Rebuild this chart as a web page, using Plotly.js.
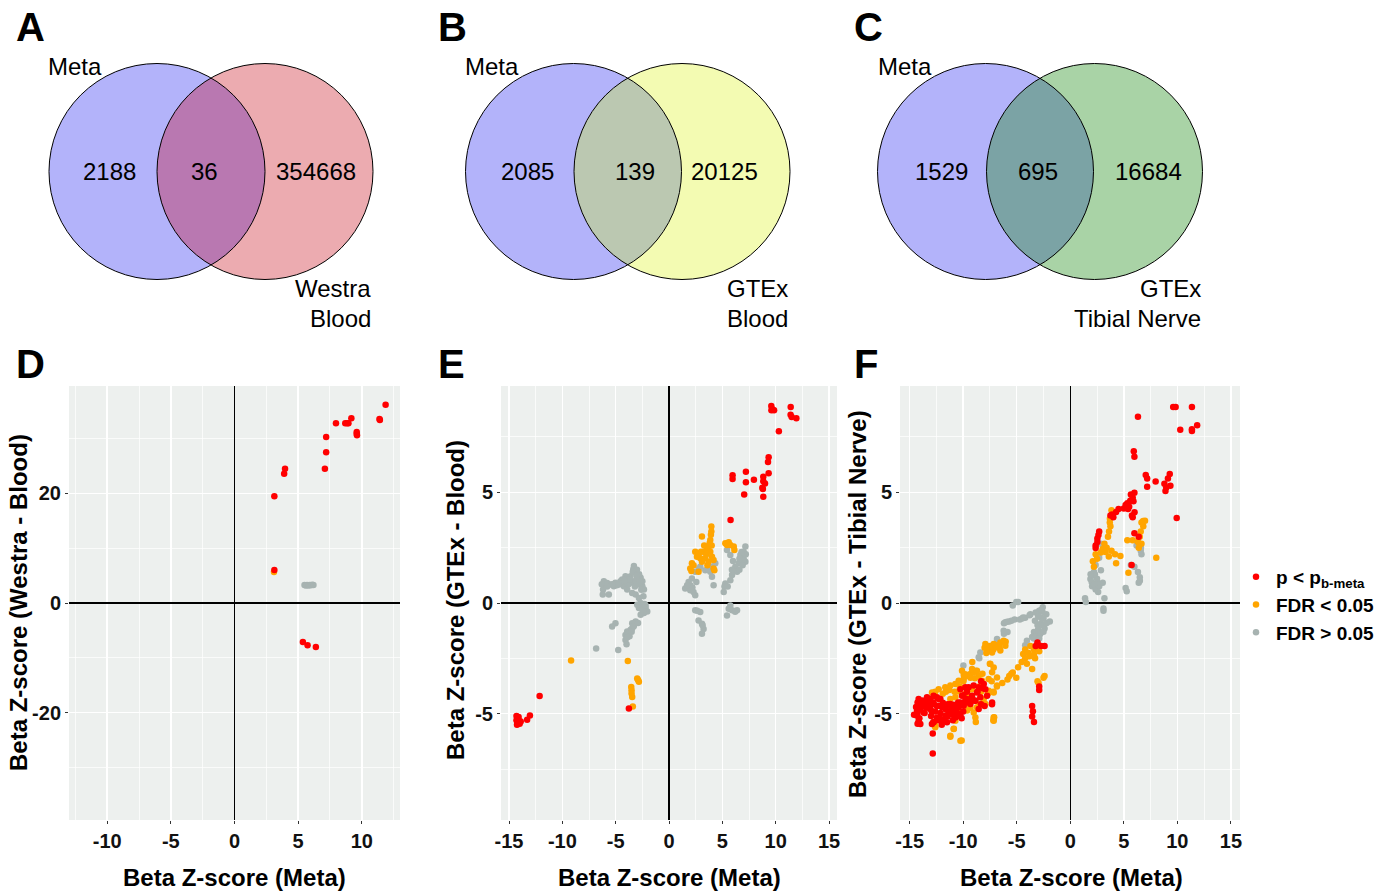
<!DOCTYPE html>
<html>
<head>
<meta charset="utf-8">
<script src="https://cdn.plot.ly/plotly-3.0.1.min.js"></script>
<style>html,body{margin:0;padding:0;background:#fff;}#chart{width:1395px;height:892px;}</style>
</head>
<body>
<div id="chart"></div>
<script>
// ---------------- Venn counts ----------------
const vennA = {left: "2188", both: "36", right: "354668", leftName: "Meta", rightName: ["Westra", "Blood"]};
const vennB = {left: "2085", both: "139", right: "20125", leftName: "Meta", rightName: ["GTEx", "Blood"]};
const vennC = {left: "1529", both: "695", right: "16684", leftName: "Meta", rightName: ["GTEx", "Tibial Nerve"]};

// ---------------- Tick values / labels ----------------
const dXTicks = [-10, -5, 0, 5, 10];
const dXLabels = ["-10", "-5", "0", "5", "10"];
const dYTicks = [-20, 0, 20];
const dYLabels = ["-20", "0", "20"];
const efXTicks = [-15, -10, -5, 0, 5, 10, 15];
const efXLabels = ["-15", "-10", "-5", "0", "5", "10", "15"];
const efYTicks = [-5, 0, 5];
const efYLabels = ["-5", "0", "5"];

// ---------------- Panel D (Meta vs Westra Blood) ----------------
const dRedX = [11.87, 11.39, 11.42, 9.18, 8.7, 8.85, 8.95, 7.97, 9.6, 9.6, 9.62, 7.2, 7.2, 7.1, 3.97, 3.9, 3.13, 3.13, 5.37, 5.74, 6.39];
const dRedY = [36.2, 33.6, 33.4, 33.7, 32.8, 32.8, 32.8, 32.8, 31.2, 30.9, 30.6, 30.3, 27.5, 24.5, 24.5, 23.6, 19.5, 6.0, -7.1, -7.7, -8.05];
const dOrangeX = [3.1];
const dOrangeY = [5.65];
const dGreyX = [5.5, 5.6, 5.7, 5.8, 5.9, 6.0, 6.1, 6.2];
const dGreyY = [3.3, 3.2, 3.3, 3.2, 3.3, 3.25, 3.35, 3.3];

// ---------------- Panel E (Meta vs GTEx Blood) ----------------
const eRedX = [9.59, 9.6, 9.85, 9.7, 11.41, 11.4, 11.5, 11.94, 10.3, 9.34, 9.28, 9.34, 5.96, 5.96, 7.21, 7.21, 7.96, 7.05, 8.84, 8.84, 9.0, 8.75, 8.8, 8.84, 5.77, -3.76, -12.13, -13.04, -13.3, -14.3, -14.2, -14.1, -14.2, -14.0, -14.3, -13.9, -14.1, -14.25];
const eRedY = [8.9, 8.7, 8.7, 8.75, 8.85, 8.5, 8.4, 8.34, 7.76, 6.58, 6.37, 5.86, 5.77, 5.6, 5.93, 5.45, 5.57, 4.9, 5.7, 5.5, 5.4, 5.2, 5.15, 4.8, 3.75, -4.76, -4.2, -5.08, -5.27, -5.1, -5.2, -5.3, -5.4, -5.45, -5.3, -5.35, -5.15, -5.5];
const eOrangeX = [-9.18, -3.86, -2.98, -2.82, -2.9, -3.54, -3.51, -3.51, -3.45, -3.39,
  3.97, 3.97, 3.93, 3.87, 3.81, 3.71, 3.56, 3.87, 4.03, 4.18, 4.18, 3.09, 3.24, 3.0, 2.46, 2.62, 2.77, 2.93, 3.4, 3.71, 3.09, 2.3, 1.99, 2.15, 2.77, 4.25,
  5.28, 5.6, 5.75, 6.07, 6.13, 5.44, 3.3, 3.5, 2.1, 3.6, 4.0];
const eOrangeY = [-2.6, -2.62, -3.41, -3.56, -3.48, -3.79, -3.94, -4.09, -4.24, -4.67,
  3.45, 3.23, 3.08, 2.85, 2.7, 2.55, 2.47, 2.32, 2.09, 1.94, 1.56, 3.0, 2.32, 2.32, 2.32, 2.09, 2.2, 2.02, 2.02, 1.86, 1.86, 1.71, 1.56, 1.79, 1.41, 1.48,
  2.7, 2.74, 2.62, 2.55, 2.39, 2.62, 2.6, 2.2, 1.45, 1.7, 2.6];
const eGreyX = [-3.29, -3.35, -3.13, -3.6, -4.08, -4.39, -3.92, -2.98, -2.66, -2.5, -2.82, -2.5, -2.35, -3.29, -3.6, -4.23, -3.92, -3.45, -3.13,
  -6.11, -5.96, -6.18, -6.21, -5.64, -5.49, -5.02, -4.7, -5.17, -4.55,
  -2.82, -2.66, -2.5, -2.82, -2.19, -2.04, -2.35, -2.66, -2.5, -2.98,
  -3.13, -3.29, -3.45, -3.6, -3.92, -4.08, -4.08, -3.98, -3.76, -3.45,
  -5.02, -5.33, -6.83, -4.76, -3.0, -2.8, -3.8, -4.0, -5.8, -6.3, -2.2, -3.3, -3.7,
  -3.4, -3.0, -3.7, -4.2, -2.7, -2.6, -3.2, -4.9, -5.3, -5.8, -2.4, -2.3, -2.9, -3.9, -3.5,
  7.16, 7.0, 6.69, 6.85, 7.16, 6.54, 6.22, 6.07, 6.38, 5.91, 5.75, 5.28, 5.13, 5.44, 5.75, 5.75, 5.6, 5.91, 6.38, 5.44,
  4.34, 4.03, 4.03, 4.18, 3.87, 3.4, 2.93, 2.46, 2.15, 1.84, 1.52, 1.99, 2.3, 2.46, 2.46, 2.93, 2.77, 3.09, 3.24, 3.09, 2.56,
  7.0, 6.9, 7.2, 6.6, 6.0, 5.2, 2.65, 3.15,
  6.6, 6.8, 5.9, 2.0, 2.2, 1.7, 3.7, 2.8, 6.2, 5.5];
const eGreyY = [1.67, 1.52, 1.36, 1.21, 1.21, 1.06, 1.06, 1.14, 1.14, 0.98, 0.83, 0.76, 0.61, 0.98, 0.91, 0.76, 0.61, 0.45, 0.38,
  0.98, 0.8, 0.61, 0.38, 0.38, 0.83, 0.91, 0.83, 0.76, 0.98,
  0.23, 0, -0.15, -0.23, -0.23, -0.38, -0.45, -0.53, -0.3, -0.08,
  -0.83, -0.98, -1.14, -1.21, -1.29, -1.44, -1.67, -1.86, -1.36, -0.91,
  -0.91, -1.06, -2.05, -2.12, 1.5, 1.3, 0.85, 0.95, 0.9, 0.85, -0.1, -1.05, -1.5,
  1.4, 1.25, 1.05, 1.0, 0.95, 0.6, 0.75, 0.8, 0.85, 0.75, 0.3, -0.05, -0.9, -1.55, -1.3,
  2.55, 2.32, 2.17, 1.94, 1.86, 1.79, 1.64, 1.48, 1.41, 1.26, 1.03, 0.88, 0.5, 2.39, 2.17, -0.11, -0.26, -0.33, -0.33, -0.56,
  1.79, 1.64, 1.18, 0.8, 1.41, 1.48, 1.64, 1.41, 1.11, 0.95, 0.65, 0.58, 0.5, 0.35, -0.33, -0.41, -0.79, -0.94, -1.17, -1.39, 0.95,
  2.0, 1.7, 2.2, 2.0, 1.9, 0.75, -0.35, -1.0,
  1.5, 2.3, 1.5, 0.8, 0.7, 0.8, 1.5, 1.55, -0.4, 0.75];

// ---------------- Panel F (Meta vs GTEx Tibial Nerve) ----------------
const fRedX = [9.61, 9.84, 11.36, 6.32, 11.85, 11.36, 11.36, 10.27, 5.93, 5.99, 7.05, 7.18, 7.97, 7.18, 9.29, 9.12, 8.79, 8.89, 9.35, 8.96, 9.94,
  5.66, 5.99, 5.83, 5.6, 5.33, 5.17, 5.5, 5.0, 4.51, 4.28, 5.76, 5.83, 3.75, 4.02, 5.99, 6.39, 5.73, 2.7, 2.63, 2.53, 2.37, 2.37, 2.53, 6.0, 5.9, 5.4, 3.9,
  -14.26, -14.26, -14.26, -14.09, -13.93, -13.76, -13.43, -13.27, -13.1, -12.94, -12.78, -12.45, -12.28, -12.12, -11.79, -11.62, -11.46, -11.13, -10.8, -10.47, -10.31, -10.14,
  -9.98, -9.65, -9.48, -9.15, -8.89, -8.66, -8.33, -8.17, -8.0, -8.33, -7.31, -12.78, -12.28, -12.84, -12.84, -11.46, -10.97, -10.64, -13.6, -14.59, -14.03,
  -3.56, -3.49, -3.56, -3.39, -2.9, -2.9, -3.06, -2.73, -2.4, -3.23,
  -14.16, -13.85, -13.38, -13.07, -12.76, -12.45, -12.13, -13.22, -13.69, -14.0, -14.31, -14.31, -14.16, -14.0, -13.69, -13.07, -12.76, -12.29, -11.98, -11.51,
  -11.2, -11.04, -11.36, -11.67, -12.13, -12.45, -12.76, -12.92, -11.82, -10.58, -10.42, -10.26, -10.11, -10.26, -9.8, -9.49, -9.02, -8.55, -8.08, -7.93,
  -8.71, -9.17, -9.64, -9.95, -9.33, -8.86, -8.4, -7.77, -7.3, -8.55, -10.73, -10.26, -11.51,
  -13.5, -12.6, -11.9, -10.9, -10.0, -9.8, -13.0, -11.0, -14.4, -12.0];
const fRedY = [8.85, 8.85, 8.85, 8.41, 8.03, 7.85, 7.77, 7.82, 6.85, 6.61, 5.78, 5.62, 5.49, 5.25, 5.83, 5.62, 5.38, 5.06, 5.3, 5.22, 3.84,
  4.9, 4.98, 4.75, 4.62, 4.5, 4.43, 4.35, 4.27, 4.24, 4.11, 3.95, 3.87, 3.95, 3.87, 3.15, 2.99, 1.72, 3.23, 3.07, 2.91, 2.6, 2.48, 2.76, 4.1, 4.6, 4.25, 4.0,
  -4.49, -4.97, -5.45, -5.21, -4.65, -4.41, -4.49, -4.73, -4.33, -4.89, -4.49, -4.65, -4.33, -4.97, -5.29, -4.81, -4.57, -4.89, -4.73, -4.49, -5.05, -5.21,
  -4.17, -4.01, -4.49, -4.33, -4.41, -4.01, -3.53, -3.85, -4.65, -4.57, -4.57, -5.37, -5.29, -5.89, -6.8, -5.13, -5.29, -5.13, -4.97, -5.05, -4.81,
  -4.65, -4.89, -5.13, -5.37, -3.77, -3.93, -1.78, -1.94, -1.94, -1.94,
  -4.34, -4.41, -4.26, -4.34, -4.19, -4.26, -4.34, -4.56, -4.56, -4.71, -4.86, -5.09, -5.32, -5.47, -4.94, -4.79, -4.56, -4.64, -4.71, -4.64,
  -4.56, -4.79, -4.94, -5.09, -5.24, -5.17, -5.39, -5.47, -5.32, -4.94, -4.71, -4.49, -4.19, -3.89, -3.81, -3.81, -3.73, -3.81, -3.66, -3.89,
  -4.04, -4.19, -4.34, -4.64, -4.56, -4.41, -4.26, -4.19, -4.49, -4.79, -5.17, -5.09, -5.39,
  -4.7, -4.9, -4.5, -4.6, -4.9, -4.4, -5.1, -5.05, -4.7, -5.5];
const fOrangeX = [3.85, 3.69, 3.75, 3.62, 3.52, 3.19, 3.03, 2.86, 2.37, 2.11, 2.21, 4.18, 3.85, 4.68, 4.28, 5.33, 5.83, 6.65, 6.98, 6.82, 6.58, 6.49, 6.65, 6.32, 8.03, 5.43,
  3.7, 3.4, 2.5, 6.8, 6.4, 3.6, 3.3,
  -6.03, -6.85, -7.51, -8.0, -7.18, -7.84, -4.21, -3.72, -3.39, -3.89, -4.21, -4.54, -4.05, -4.87, -5.37, -5.7, -5.04, -5.86, -6.35, -6.85, -7.18, -7.67, -7.34, -7.51,
  -9.15, -9.81, -9.32, -9.98, -10.31, -8.5, -8.33, -9.48, -10.8, -11.29, -11.62, -12.61, -11.13, -10.47, -9.32, -8.82, -7.18, -7.11, -10.87, -11.2, -10.14, -12.61,
  -2.4, -2.5, -2.96, -3.06, -3.56, -3.29, -3.39, -3.06, -2.9,
  -12.91, -12.29, -11.67, -11.2, -10.73, -10.42, -9.95, -9.64, -9.33, -9.02, -10.11, -9.95, -9.17, -8.71, -8.55, -8.24, -7.62, -7.3, -7.46, -7.15, -6.84, -6.84, -7.15, -7.62,
  -11.2, -10.73, -9.8, -9.49, -9.64, -9.02, -8.86, -8.71, -10.73, -12.6, -10.89, -11.2, -10.26, -7.15, -7.15, -8.08, -7.93, -8.4, -9.17,
  -7.93, -7.46, -7.77, -7.15, -6.84, -6.53, -6.22, -6.06, -6.53, -7.3,
  -9.5, -8.9, -8.2, -6.6, -5.5, -4.4, -3.8, -11.9, -10.5];
const fOrangeY = [4.19, 3.63, 3.47, 3.23, 2.99, 2.68, 2.44, 2.28, 2.2, 1.88, 1.64, 2.2, 2.36, 2.12, 1.8, 2.83, 2.83, 3.63, 3.71, 3.47, 3.23, 2.99, 2.68, 2.76, 2.04, 1.37,
  3.8, 2.5, 2.0, 3.7, 2.5, 2.1, 2.3,
  -1.75, -1.91, -1.94, -2.02, -2.1, -2.26, -2.1, -1.94, -2.1, -2.26, -2.5, -2.66, -2.74, -2.9, -3.14, -3.3, -3.38, -3.46, -3.61, -3.77, -4.01, -4.09, -3.53, -2.74,
  -2.66, -3.22, -3.38, -3.53, -3.77, -3.77, -4.01, -4.17, -4.01, -3.93, -4.01, -4.01, -4.65, -4.89, -4.73, -5.37, -5.29, -5.16, -5.68, -6.04, -6.21, -5.61,
  -3.3, -3.38, -3.61, -3.53, -2.98, -2.5, -2.34, -2.1, -2.18,
  -4.04, -3.89, -3.81, -3.73, -3.66, -3.51, -3.43, -3.28, -3.21, -3.13, -3.06, -3.25, -2.98, -3.06, -3.28, -3.51, -3.43, -3.13, -2.76, -2.91, -3.36, -3.73, -4.04, -3.96,
  -4.34, -4.26, -4.11, -4.56, -4.86, -4.94, -5.17, -4.71, -5.32, -5.54, -5.69, -6.0, -6.22, -5.17, -5.32, -4.34, -4.56, -4.56, -3.89,
  -1.85, -2.0, -2.15, -1.85, -2.0, -1.78, -1.7, -1.93, -2.15, -2.23,
  -3.9, -3.4, -3.2, -2.0, -3.2, -2.3, -2.4, -4.1, -4.0];
const fGreyX = [-5.04, -4.87, -5.37, -6.19, -5.7, -5.2, -4.71, -4.21, -3.72, -3.23, -2.9, -2.57, -2.24, -1.91, -2.73, -3.06, -3.39, -3.56, -4.05, -4.21, -2.4, -2.73, -2.9,
  -5.86, -6.19, -8.5, -9.98, -9.15, -8.82, -6.06, -6.22, -6.84, -8.4, -8.55,
  -2.6, -2.5, -2.6, -3.0, -3.2, -2.8, -3.4, -2.2, -2.5, -3.8, -4.5, -5.5, -3.0,
  -3.3, -2.7, -4.4, -5.9, -2.9, -3.1,
  2.86, 2.7, 2.37, 2.21, 1.88, 2.04, 2.37, 2.7, 3.03, 3.19, 3.1, 1.38, 1.45, 2.53, 2.11, 2.86, 5.17, 5.27, 5.66, 5.99, 6.32, 6.49, 6.39, 6.58, 6.65, 6.19,
  2.0, 2.2, 2.5, 2.3, 3.1, 2.6, 1.9, 6.5, 6.6];
const fGreyY = [0.05, 0.05, -0.11, -0.91, -0.83, -0.75, -0.75, -0.67, -0.51, -0.43, -0.35, -0.19, -0.51, -0.83, -0.67, -0.99, -1.31, -1.54, -1.7, -1.91, -1.15, -0.91, -1.31,
  -1.31, -1.39, -2.5, -2.82, -3.14, -3.06, -0.87, -1.25, -1.63, -2.23, -2.45,
  -0.4, -0.7, -1.0, -1.2, -1.5, -1.4, -1.6, -0.9, -1.3, -0.55, -0.7, -0.8, -0.6,
  -0.8, -0.3, -0.65, -0.85, -1.6, -1.8,
  2.68, 2.04, 1.72, 1.4, 1.08, 0.76, 0.61, 0.76, 0.92, 0.21, -0.35, 0.21, 0.05, 0.92, 1.24, 1.48, 0.68, 0.53, 1.72, 1.64, 1.4, 1.16, 0.92, 2.36, 2.2, 2.6,
  0.95, 0.85, 1.1, 1.3, -0.25, 0.5, 1.3, 1.0, 2.5];

// ---------------- Styling ----------------
const W = 1395, H = 892;
const FONT = "Liberation Sans, Arial, sans-serif";
const RED = "#ff0000", ORANGE = "#ffa500", GREY = "#a7b3b1";
const fx = p => p / W;
const fy = p => 1 - p / H;

function pts(x, y, color, name, xa, ya, legend) {
  return {type: "scatter", mode: "markers", x: x, y: y, xaxis: xa, yaxis: ya, name: name,
    legendgroup: name, showlegend: legend, hoverinfo: "skip",
    marker: {color: color, size: 6.5, line: {width: 0}}};
}

const traces = [
  pts(dGreyX, dGreyY, GREY, "FDR &gt; 0.05", "x", "y", false),
  pts(dOrangeX, dOrangeY, ORANGE, "FDR &lt; 0.05", "x", "y", false),
  pts(dRedX, dRedY, RED, "p &lt; p<sub>b-meta</sub>", "x", "y", false),
  pts(eGreyX, eGreyY, GREY, "FDR &gt; 0.05", "x2", "y2", false),
  pts(eOrangeX, eOrangeY, ORANGE, "FDR &lt; 0.05", "x2", "y2", false),
  pts(eRedX, eRedY, RED, "p &lt; p<sub>b-meta</sub>", "x2", "y2", false),
  pts(fGreyX, fGreyY, GREY, "FDR &gt; 0.05", "x3", "y3", true),
  pts(fOrangeX, fOrangeY, ORANGE, "FDR &lt; 0.05", "x3", "y3", true),
  pts(fRedX, fRedY, RED, "p &lt; p<sub>b-meta</sub>", "x3", "y3", true)
];

function axis(domain, range, tv, tt, minor, anchor) {
  return {domain: domain, range: range, tickmode: "array", tickvals: tv, ticktext: tt, anchor: anchor,
    showgrid: true, gridcolor: "#ffffff", gridwidth: 1.4,
    minor: {tickmode: "linear", dtick: minor, tick0: 0, showgrid: true, gridcolor: "#ffffff", gridwidth: 0.7, ticks: ""},
    zeroline: true, zerolinecolor: "#000000", zerolinewidth: 1.2,
    ticks: "outside", ticklen: 3, tickwidth: 1, tickcolor: "#333333",
    tickfont: {family: FONT, size: 20, color: "#111111", weight: "bold"},
    showline: false, fixedrange: true};
}

const yDom = [fy(820), fy(386)];
const layout = {
  width: W, height: H, margin: {l: 0, r: 0, t: 0, b: 0},
  paper_bgcolor: "#ffffff", plot_bgcolor: "#edf0ee",
  font: {family: FONT, color: "#000"},
  xaxis: axis([fx(69), fx(400)], [-13, 13], dXTicks, dXLabels, 2.5, "y"),
  yaxis: axis(yDom, [-39.6, 39.6], dYTicks, dYLabels, 10, "x"),
  xaxis2: axis([fx(501), fx(837)], [-15.75, 15.75], efXTicks, efXLabels, 2.5, "y2"),
  yaxis2: axis(yDom, [-9.8, 9.8], efYTicks, efYLabels, 2.5, "x2"),
  xaxis3: axis([fx(900), fx(1240)], [-15.9, 15.85], efXTicks, efXLabels, 2.5, "y3"),
  yaxis3: axis(yDom, [-9.8, 9.8], efYTicks, efYLabels, 2.5, "x3"),
  showlegend: true,
  legend: {x: fx(1236), y: fy(558), xanchor: "left", yanchor: "top", traceorder: "reversed",
    bgcolor: "rgba(255,255,255,0)", font: {family: FONT, size: 19, color: "#000", weight: "bold"},
    itemwidth: 30, tracegroupgap: 0},
  shapes: [], annotations: []
};

// ---------------- Venn diagrams ----------------
function lensPath(cx1, cx2, cy, r) {
  const a = (cx2 - cx1) / 2, h = Math.sqrt(r * r - a * a), th = Math.atan2(h, a);
  const p = [];
  for (let i = 0; i <= 48; i++) { const t = -th + 2 * th * i / 48; p.push([cx1 + r * Math.cos(t), cy + r * Math.sin(t)]); }
  for (let i = 0; i <= 48; i++) { const t = Math.PI - th + 2 * th * i / 48; p.push([cx2 + r * Math.cos(t), cy + r * Math.sin(t)]); }
  return "M " + p.map(q => fx(q[0]).toFixed(5) + "," + fy(q[1]).toFixed(5)).join(" L ") + " Z";
}
function circ(cx, cy, r, fill, lineW) {
  return {type: "circle", xref: "paper", yref: "paper", x0: fx(cx - r), x1: fx(cx + r), y0: fy(cy + r), y1: fy(cy - r),
    fillcolor: fill, line: {color: "#000", width: lineW}, layer: "above"};
}
function txt(x, y, text, size, opts) {
  return Object.assign({xref: "paper", yref: "paper", x: fx(x), y: fy(y), text: text, showarrow: false,
    xanchor: "center", yanchor: "middle", font: {family: FONT, size: size, color: "#000"}}, opts || {});
}
function venn(v, c1, c2, cy, r, colL, colR, colB, pos) {
  layout.shapes.push(circ(c1, cy, r, colL, 0));
  layout.shapes.push(circ(c2, cy, r, colR, 0));
  layout.shapes.push({type: "path", xref: "paper", yref: "paper", path: lensPath(c1, c2, cy, r), fillcolor: colB, line: {width: 0}, layer: "above"});
  layout.shapes.push(circ(c1, cy, r, "rgba(0,0,0,0)", 1));
  layout.shapes.push(circ(c2, cy, r, "rgba(0,0,0,0)", 1));
  layout.annotations.push(txt(pos.meta, 67, v.leftName, 24));
  layout.annotations.push(txt(pos.l, 171, v.left, 24));
  layout.annotations.push(txt(pos.b, 171, v.both, 24));
  layout.annotations.push(txt(pos.r, 171, v.right, 24));
  layout.annotations.push(txt(c2 + r, 288, v.rightName[0], 24, {xanchor: "right"}));
  layout.annotations.push(txt(c2 + r, 318, v.rightName[1], 24, {xanchor: "right"}));
}
venn(vennA, 157, 265, 171.5, 108, "#b3b3fa", "#ecabb0", "#b978b1", {meta: 75, l: 110, b: 204, r: 316});
venn(vennB, 573.5, 682, 171.5, 108, "#b3b3fa", "#f3fbb2", "#bbc8b1", {meta: 492, l: 527, b: 635, r: 724});
venn(vennC, 985.5, 1094.5, 171.5, 108, "#b3b3fa", "#a9d3a6", "#7ba3a5", {meta: 905, l: 941, b: 1038, r: 1148});

// ---------------- Panel letters ----------------
const letters = [["A", 30, 27], ["B", 452, 27], ["C", 868, 27], ["D", 30, 364], ["E", 451, 364], ["F", 866, 364]];
letters.forEach(l => layout.annotations.push(txt(l[1], l[2], l[0], 40, {font: {family: FONT, size: 40, color: "#000", weight: "bold"}})));

// ---------------- Axis titles ----------------
const xTitle = "Beta Z-score (Meta)";
const yTitles = ["Beta Z-score (Westra - Blood)", "Beta Z-score (GTEx - Blood)", "Beta Z-score (GTEx - Tibial Nerve)"];
const bold24 = {family: FONT, size: 24, color: "#000", weight: "bold"};
[234.5, 669, 1071].forEach(x => layout.annotations.push(txt(x, 877, xTitle, 24, {font: bold24})));
[[18, 603], [455, 600], [857, 604]].forEach((p, i) => layout.annotations.push(txt(p[0], p[1], yTitles[i], 24, {font: bold24, textangle: -90})));

Plotly.newPlot("chart", traces, layout, {staticPlot: true, displayModeBar: false});
</script>
</body>
</html>
